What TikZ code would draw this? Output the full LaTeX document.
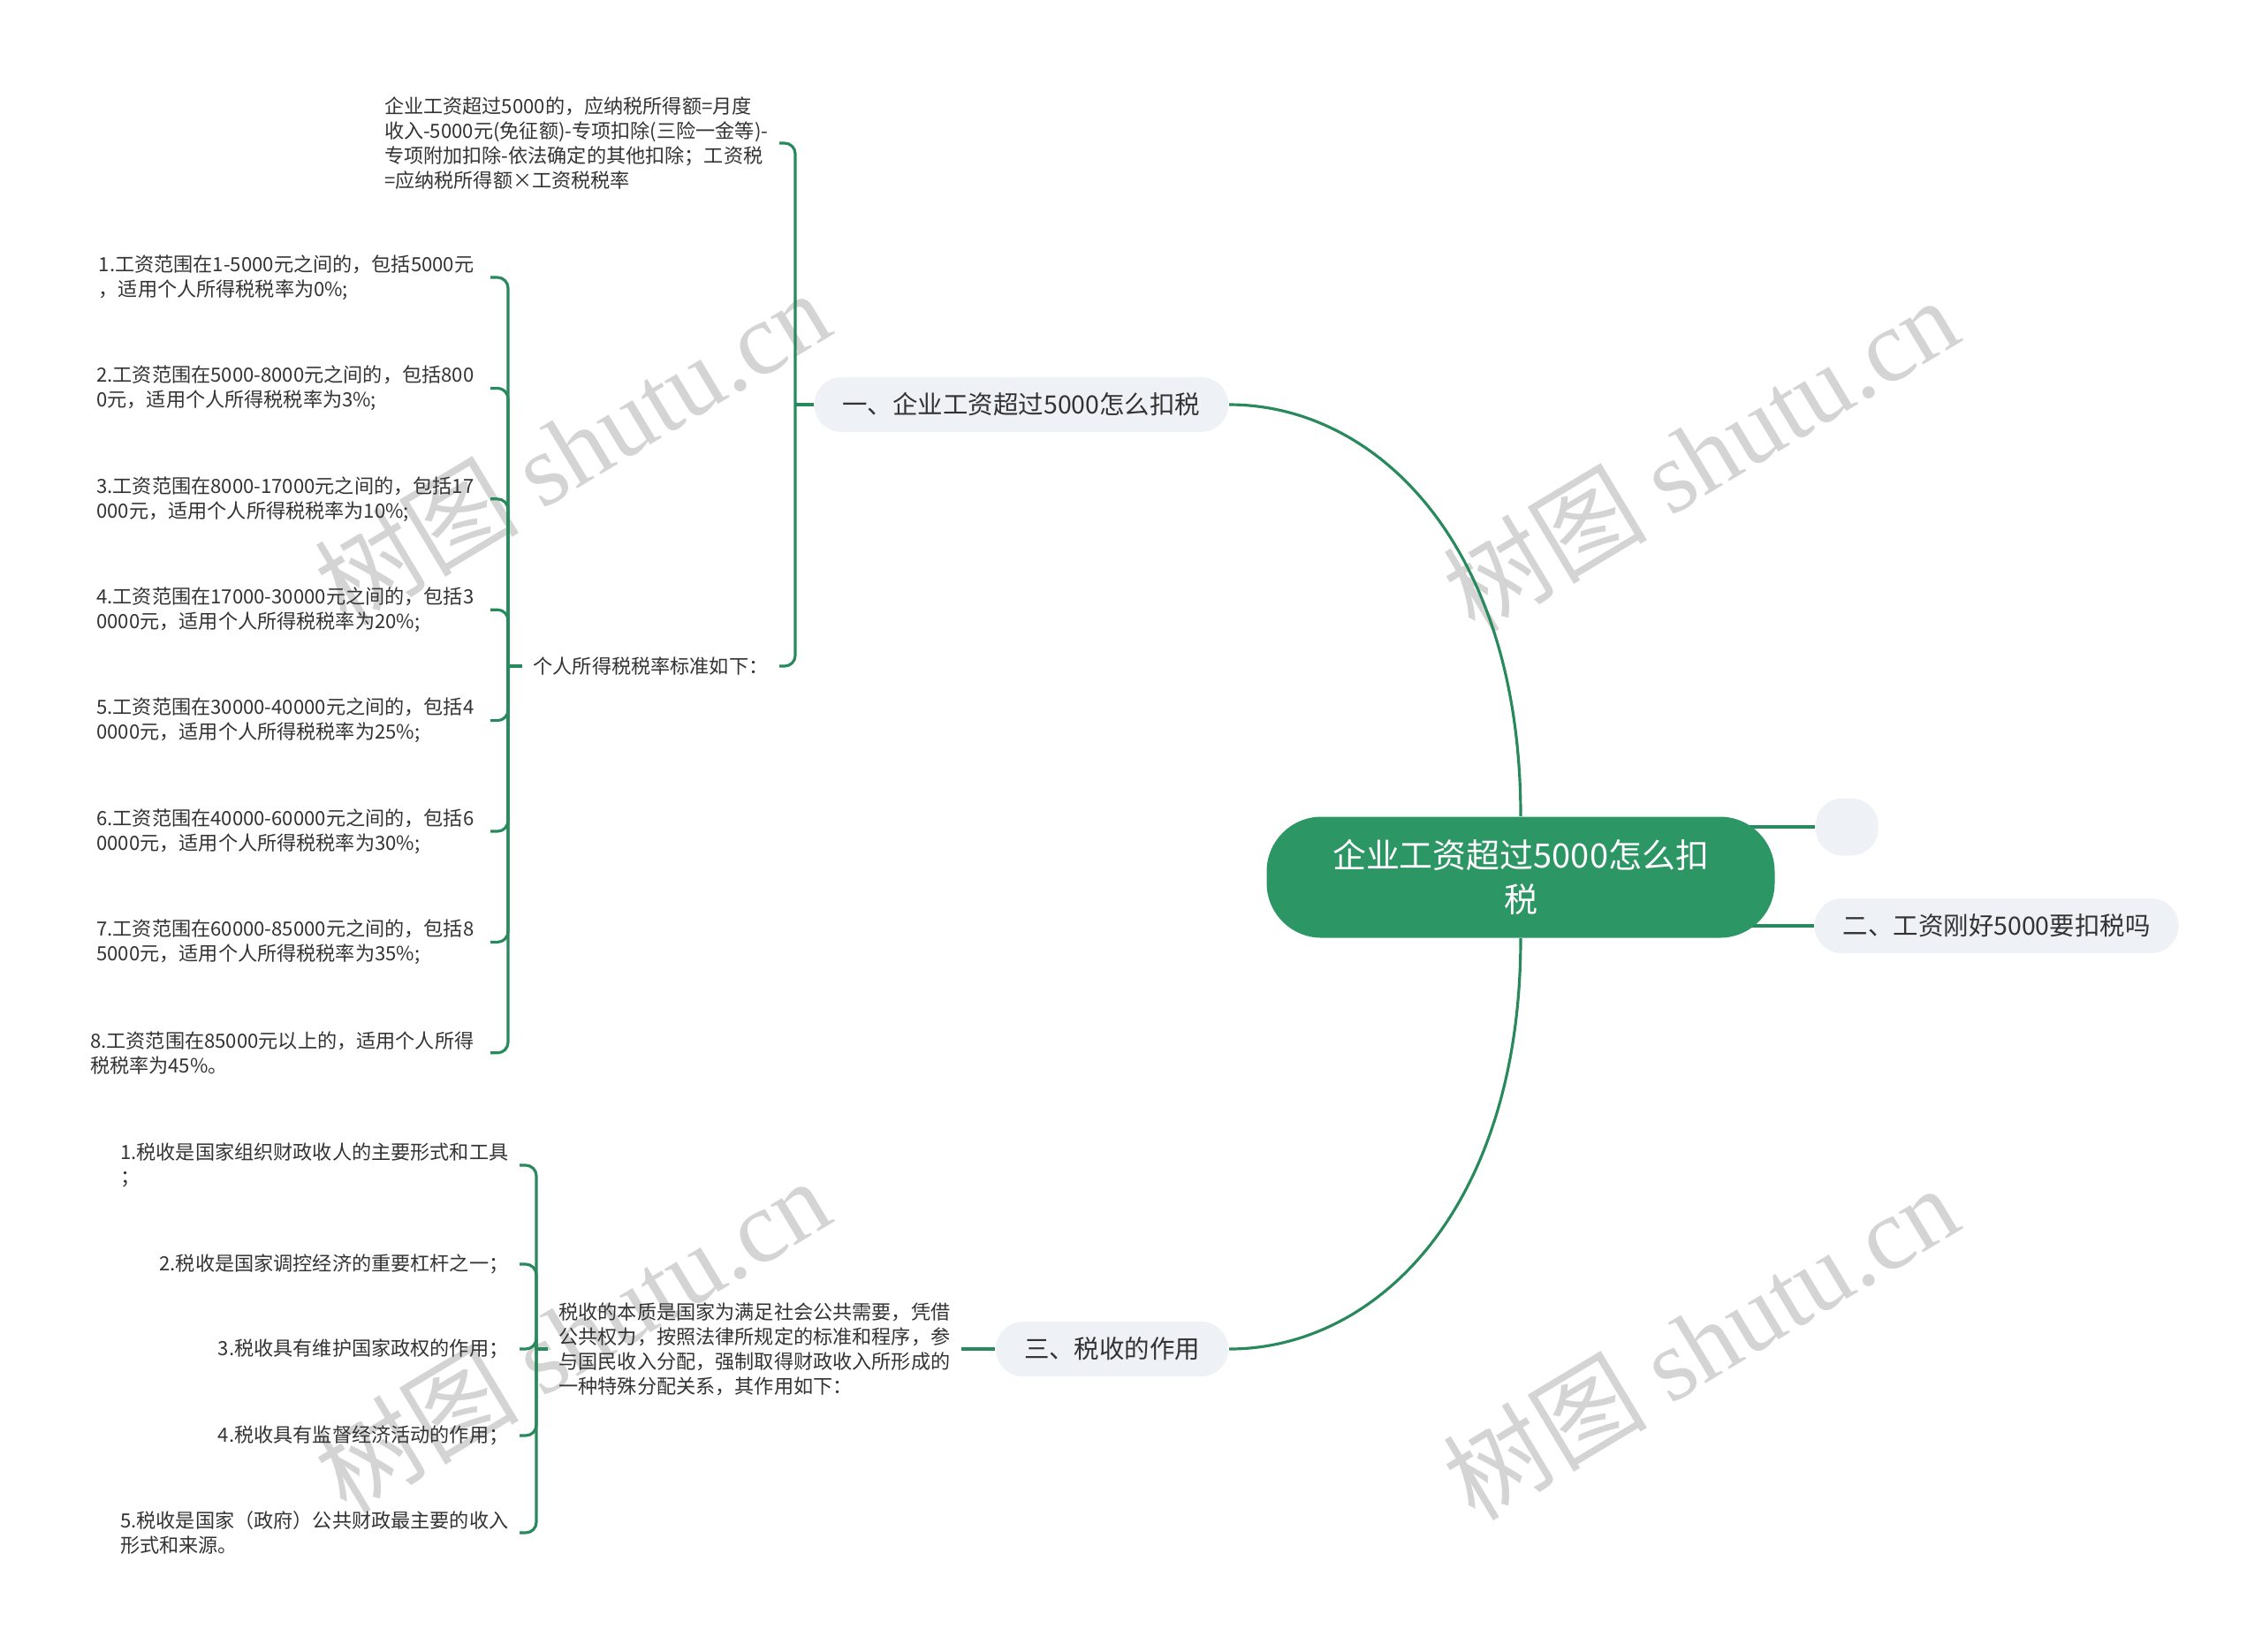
\documentclass[tikz,border=0pt]{standalone}
\usepackage{fontspec}
\setmainfont{Noto Sans CJK SC}
\newfontfamily\wmlatin{Liberation Serif}
\usetikzlibrary{backgrounds}

\definecolor{rootgreen}{RGB}{44,150,100}
\definecolor{linkgreen}{RGB}{40,138,92}
\definecolor{topicgray}{RGB}{238,241,245}
\definecolor{textgray}{RGB}{51,51,51}
\definecolor{wmgray}{RGB}{212,212,212}

\begin{document}
\begin{tikzpicture}[
  rootnode/.style={fill=rootgreen,text=white,rounded corners=0.62cm,
                   minimum width=5.75cm,minimum height=1.37cm,align=center,
                   font=\fontsize{10.8}{14.2}\selectfont},
  topic/.style={fill=topicgray,text=textgray,rounded corners=0.31cm,
                minimum height=0.62cm,inner xsep=0.32cm,
                font=\fontsize{8.1}{10}\selectfont},
  leaf/.style={text=textgray,align=left,inner xsep=0.12cm,inner ysep=0.04cm,
               font=\fontsize{6.3}{8}\selectfont},
  link/.style={draw=linkgreen,line width=0.9pt},
  brace/.style={link,rounded corners=0.12cm},
  watermark/.style={text=wmgray,rotate=31,font=\fontsize{33}{33}\selectfont},
]
\useasboundingbox (0,0) rectangle (25.6,-18.69);

% === Root ===
\node[rootnode] (root) at (17.21,-9.93) {企业工资超过5000怎么扣\\税};

% === Main topics ===
\node[topic,anchor=east] (b1) at (13.91,-4.58) {一、企业工资超过5000怎么扣税};
\node[topic,anchor=west,minimum width=0.71cm,minimum height=0.65cm] (empty) at (20.54,-9.36) {};
\node[topic,anchor=west] (b2) at (20.53,-10.48) {二、工资刚好5000要扣税吗};
\node[topic,anchor=east] (b3) at (13.91,-15.27) {三、税收的作用};

% === Branch 1 ===
\coordinate (j1) at (9.00,-4.58);
\node[leaf,anchor=east] (f1) at (8.82,-1.62)
  {企业工资超过5000的，应纳税所得额=月度\\
   收入-5000元(免征额)-专项扣除(三险一金等)-\\
   专项附加扣除-依法确定的其他扣除；工资税\\
   =应纳税所得额×工资税税率};
\node[leaf,anchor=east] (rate) at (8.82,-7.54) {个人所得税税率标准如下：};

\coordinate (j2) at (5.75,-7.54);
\node[leaf,anchor=east,inner xsep=0.18cm] (r1) at (5.55,-3.14) {1.工资范围在1-5000元之间的，包括5000元\\，适用个人所得税税率为0\%;};
\node[leaf,anchor=east,inner xsep=0.18cm] (r2) at (5.55,-4.394) {2.工资范围在5000-8000元之间的，包括800\\0元，适用个人所得税税率为3\%;};
\node[leaf,anchor=east,inner xsep=0.18cm] (r3) at (5.55,-5.648) {3.工资范围在8000-17000元之间的，包括17\\000元，适用个人所得税税率为10\%;};
\node[leaf,anchor=east,inner xsep=0.18cm] (r4) at (5.55,-6.902) {4.工资范围在17000-30000元之间的，包括3\\0000元，适用个人所得税税率为20\%;};
\node[leaf,anchor=east,inner xsep=0.18cm] (r5) at (5.55,-8.156) {5.工资范围在30000-40000元之间的，包括4\\0000元，适用个人所得税税率为25\%;};
\node[leaf,anchor=east,inner xsep=0.18cm] (r6) at (5.55,-9.41) {6.工资范围在40000-60000元之间的，包括6\\0000元，适用个人所得税税率为30\%;};
\node[leaf,anchor=east,inner xsep=0.18cm] (r7) at (5.55,-10.664) {7.工资范围在60000-85000元之间的，包括8\\5000元，适用个人所得税税率为35\%;};
\node[leaf,anchor=east,inner xsep=0.18cm] (r8) at (5.55,-11.918) {8.工资范围在85000元以上的，适用个人所得\\税税率为45\%。};

% === Branch 3 ===
\node[leaf,anchor=east] (ess) at (10.88,-15.27)
  {税收的本质是国家为满足社会公共需要，凭借\\
   公共权力，按照法律所规定的标准和程序，参\\
   与国民收入分配，强制取得财政收入所形成的\\
   一种特殊分配关系，其作用如下：};

\coordinate (j3) at (6.07,-15.27);
\node[leaf,anchor=east] (t1) at (5.88,-13.19) {1.税收是国家组织财政收人的主要形式和工具\\；};
\node[leaf,anchor=east] (t2) at (5.88,-14.31) {2.税收是国家调控经济的重要杠杆之一；};
\node[leaf,anchor=east] (t3) at (5.88,-15.27) {3.税收具有维护国家政权的作用；};
\node[leaf,anchor=east] (t4) at (5.88,-16.25) {4.税收具有监督经济活动的作用；};
\node[leaf,anchor=east] (t5) at (5.88,-17.35) {5.税收是国家（政府）公共财政最主要的收入\\形式和来源。};

% === Connectors and watermark, behind the nodes ===
\begin{pgfonlayer}{background}
  \node[watermark] (wm1) at (6.47,-5.06) {树图 {\wmlatin shutu.cn}};
  \node[watermark] (wm2) at (19.24,-5.14) {树图 {\wmlatin shutu.cn}};
  \node[watermark] (wm3) at (6.47,-15.11) {树图 {\wmlatin shutu.cn}};
  \node[watermark] (wm4) at (19.24,-15.19) {树图 {\wmlatin shutu.cn}};

  \draw[link] (root.north) .. controls (17.21,-6.2) and (15.6,-4.58) .. (b1.east);
  \draw[link] (root.south) .. controls (17.21,-13.65) and (15.6,-15.27) .. (b3.east);
  \draw[link] (root.center |- empty.west) -- (empty.west);
  \draw[link] (root.center |- b2.west) -- (b2.west);

  \draw[link] (b1.west) -- (j1);
  \draw[brace] (j1) |- (f1.east);
  \draw[brace] (j1) |- (rate.east);
  \draw[link] (rate.west) -- (j2);
  \foreach \i in {1,...,8}
    \draw[brace] (j2) |- (r\i.east);

  \draw[link] (b3.west) -- (ess.east);
  \draw[link] (ess.west) -- (j3);
  \foreach \i in {1,...,5}
    \draw[brace] (j3) |- (t\i.east);
\end{pgfonlayer}

\end{tikzpicture}
\end{document}
